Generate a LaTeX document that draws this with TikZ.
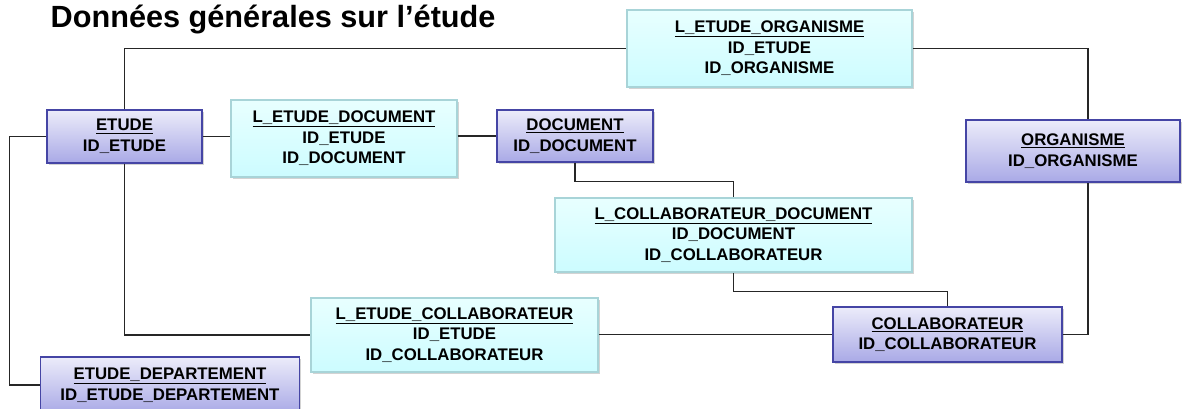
\documentclass[tikz,border=0pt]{standalone}
\usepackage{fontspec}
\setmainfont{Liberation Sans}
\usetikzlibrary{shadows}
\definecolor{bordentite}{HTML}{4545A5}
\definecolor{hautentite}{HTML}{ECECFA}
\definecolor{basentite}{HTML}{A9A9E6}
\definecolor{bordlien}{HTML}{A8D4D8}
\definecolor{hautlien}{HTML}{E8FFFF}
\definecolor{baslien}{HTML}{CCFCFF}
\newcommand{\titre}[1]{\underline{#1}}
\begin{document}
\begin{tikzpicture}[x=0.75pt,y=-0.75pt,
    entite/.style={draw=bordentite,line width=1pt,top color=hautentite,bottom color=basentite,
      drop shadow={shadow xshift=1.2pt,shadow yshift=-1.5pt,opacity=0.35},
      align=center,inner sep=0pt,font=\bfseries\fontsize{12.6}{15.4}\selectfont},
    lien/.style={draw=bordlien,line width=0.8pt,top color=hautlien,bottom color=baslien,
      drop shadow={shadow xshift=1.2pt,shadow yshift=-1.5pt,opacity=0.35},
      align=center,inner sep=0pt,font=\bfseries\fontsize{12.6}{15.4}\selectfont},
    trait/.style={draw=black!85,line width=1pt}]
  \useasboundingbox (0,0) rectangle (1200,408);

  \node (titre) at (46,27) [anchor=base west,font=\bfseries\fontsize{23}{25}\selectfont]{Données générales sur l’étude};

  % entites et liens
  \begin{scope}
    \coordinate (droite) at (1088,0);

    \node (etude) at (124.5,136.5) [entite,minimum width=116.25pt,minimum height=39.75pt]{\titre{ETUDE}\\ID\_ETUDE};
    \node (letudedoc) at (344,138.5) [lien,minimum width=169.5pt,minimum height=57.75pt]{\titre{L\_ETUDE\_DOCUMENT}\\ID\_ETUDE\\ID\_DOCUMENT};
    \node (document) at (575,136) [entite,minimum width=117pt,minimum height=39pt]{\titre{DOCUMENT}\\ID\_DOCUMENT};
    \node (letudeorg) at (769.5,48.5) [lien,minimum width=213.75pt,minimum height=57.75pt]{\titre{L\_ETUDE\_ORGANISME}\\ID\_ETUDE\\ID\_ORGANISME};
    \node (organisme) at (1073,151) [entite,minimum width=160.5pt,minimum height=46.5pt]{\titre{ORGANISME}\\ID\_ORGANISME};
    \node (lcollabdoc) at (733.5,235) [lien,minimum width=267.75pt,minimum height=55.5pt]{\titre{L\_COLLABORATEUR\_DOCUMENT}\\ID\_DOCUMENT\\ID\_COLLABORATEUR};
    \node (letudecollab) at (454.5,335) [lien,minimum width=215.25pt,minimum height=55.5pt]{\titre{L\_ETUDE\_COLLABORATEUR}\\ID\_ETUDE\\ID\_COLLABORATEUR};
    \node (collab) at (947.5,334.5) [entite,minimum width=171.75pt,minimum height=41.25pt]{\titre{COLLABORATEUR}\\ID\_COLLABORATEUR};
    \node (etudedep) at (170,385) [entite,minimum width=194.25pt,minimum height=42pt]{\titre{ETUDE\_DEPARTEMENT}\\ID\_ETUDE\_DEPARTEMENT};

    \draw[trait] (etude.north) |- (letudeorg.west);
    \draw[trait] (letudeorg.east) -| (droite |- organisme.north);
    \draw[trait] (etude.east) -- (etude.east -| letudedoc.west);
    \draw[trait] (letudedoc.east |- document.west) -- (document.west);
    \draw[trait] (document.south) -- ++(0,19) -| (lcollabdoc.north);
    \draw[trait] (lcollabdoc.south) -- ++(0,19) -| (collab.north);
    \draw[trait] (etude.south) |- (letudecollab.west);
    \draw[trait] (letudecollab.east |- collab.west) -- (collab.west);
    \draw[trait] (collab.east) -| (droite |- organisme.south);
    \draw[trait] (etude.west) -- ++(-37,0) |- (etudedep.west);

  \end{scope}
\end{tikzpicture}
\end{document}
